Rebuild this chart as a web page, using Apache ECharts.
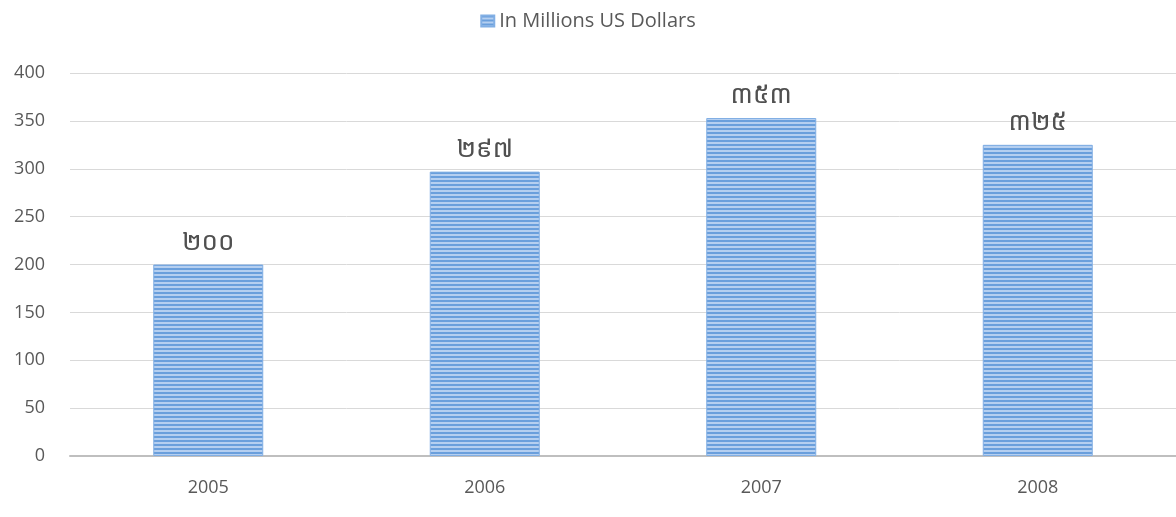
<!DOCTYPE html>
<html><head><meta charset="utf-8">
<script src="https://cdn.jsdelivr.net/npm/echarts@6/dist/echarts.min.js"></script>
<style>html,body{margin:0;padding:0;background:#fff}#c{width:1176px;height:517px}</style>
</head><body><div id="c"></div>
<script>
const categories = ['2005', '2006', '2007', '2008'];
const values = [200, 297, 353, 325];
const labelTexts = ['២០០', '២៩៧', '៣៥៣', '៣២៥'];
const seriesName = 'In Millions US Dollars';

const pc = document.createElement('canvas');
pc.width = 4; pc.height = 4;
const g = pc.getContext('2d');
g.fillStyle = '#6a9fdc'; g.fillRect(0, 0, 4, 4);
g.fillStyle = '#b5cff0'; g.fillRect(0, 2, 4, 2);
const pattern = { image: pc, repeat: 'repeat' };

const chart = echarts.init(document.getElementById('c'));
chart.setOption({
  animation: false,
  legend: {
    top: 6, left: 'center',
    itemWidth: 13, itemHeight: 11, itemGap: 8,
    icon: 'rect',
    textStyle: { color: '#595959', fontSize: 20, fontFamily: 'Open Sans' },
    data: [{ name: seriesName, itemStyle: { color: pattern } }]
  },
  grid: { left: 70, right: -2, top: 73, bottom: 61 },
  xAxis: {
    type: 'category', data: categories,
    axisLine: { lineStyle: { color: '#bfbfbf', width: 2 } },
    axisTick: { show: false },
    axisLabel: { color: '#595959', fontSize: 18, margin: 23, fontFamily: 'Open Sans' }
  },
  yAxis: {
    type: 'value', min: 0, max: 400, interval: 50,
    axisLine: { show: false }, axisTick: { show: false },
    splitLine: { lineStyle: { color: '#d9d9d9', width: 1 } },
    axisLabel: { color: '#595959', fontSize: 18, margin: 25, fontFamily: 'Open Sans' }
  },
  series: [{
    name: seriesName, type: 'bar', barWidth: 110,
    data: values,
    itemStyle: { color: pattern, borderColor: '#82afe4', borderWidth: 1 },
    label: {
      show: true, position: 'top', distance: 9,
      color: '#505050', fontSize: 26,
      fontFamily: 'Noto Sans Khmer, Khmer OS, DejaVu Sans, Noto Sans, sans-serif',
      formatter: p => labelTexts[p.dataIndex]
    }
  }]
});
</script></body></html>
